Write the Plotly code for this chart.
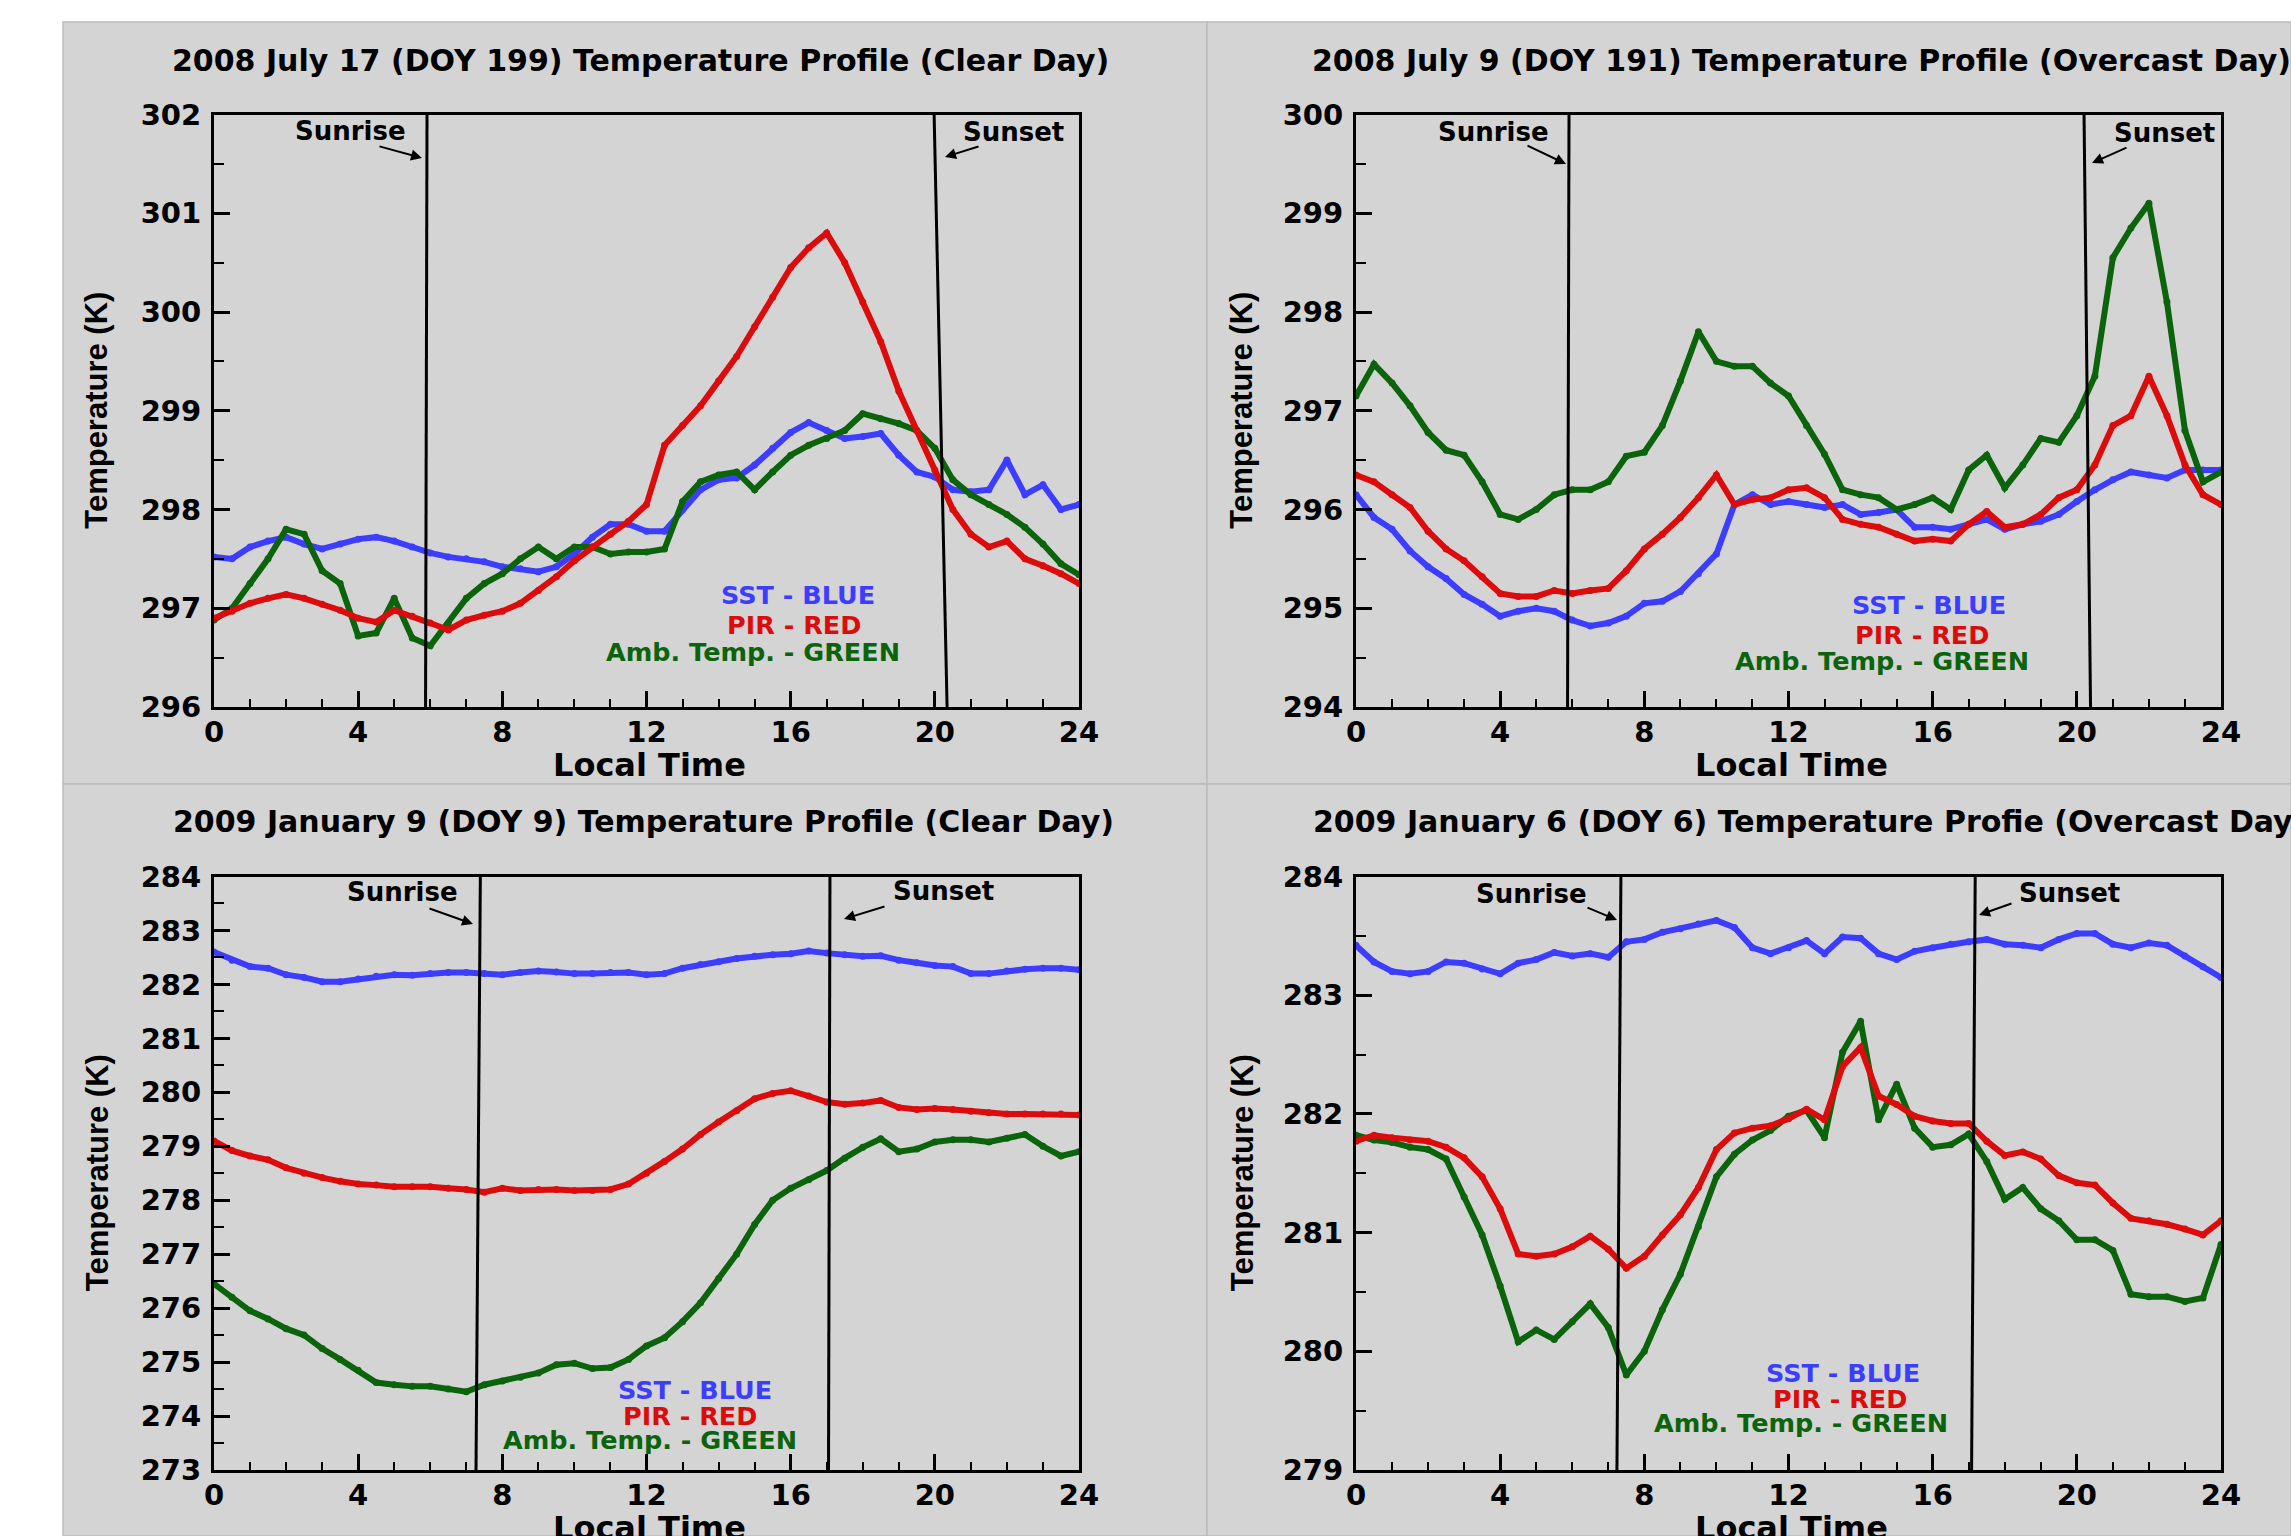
import plotly.graph_objects as go

# ---------------------------------------------------------------- data
HOURS = [0.0, 0.5, 1.0, 1.5, 2.0, 2.5, 3.0, 3.5, 4.0, 4.5,
         5.0, 5.5, 6.0, 6.5, 7.0, 7.5, 8.0, 8.5, 9.0, 9.5,
         10.0, 10.5, 11.0, 11.5, 12.0, 12.5, 13.0, 13.5, 14.0, 14.5,
         15.0, 15.5, 16.0, 16.5, 17.0, 17.5, 18.0, 18.5, 19.0, 19.5,
         20.0, 20.5, 21.0, 21.5, 22.0, 22.5, 23.0, 23.5, 24.0]

X_TICKS = [0, 4, 8, 12, 16, 20, 24]

# 2008 July 17 (DOY 199), clear day
sst_jul17 = [297.52, 297.50, 297.62, 297.68, 297.72, 297.65, 297.60, 297.65, 297.70, 297.72,
             297.68, 297.62, 297.56, 297.52, 297.50, 297.47, 297.42, 297.40, 297.37, 297.42,
             297.55, 297.72, 297.85, 297.85, 297.78, 297.78, 298.00, 298.20, 298.30, 298.32,
             298.45, 298.62, 298.78, 298.88, 298.80, 298.72, 298.74, 298.77, 298.55, 298.38,
             298.33, 298.20, 298.18, 298.20, 298.50, 298.15, 298.25, 298.00, 298.05]
pir_jul17 = [296.90, 296.97, 297.05, 297.10, 297.14, 297.10, 297.04, 296.98, 296.90, 296.86,
             296.98, 296.92, 296.85, 296.78, 296.88, 296.93, 296.97, 297.05, 297.18, 297.32,
             297.48, 297.62, 297.75, 297.88, 298.05, 298.65, 298.85, 299.05, 299.30, 299.55,
             299.85, 300.15, 300.45, 300.65, 300.80, 300.50, 300.10, 299.70, 299.20, 298.80,
             298.40, 298.00, 297.75, 297.62, 297.68, 297.50, 297.43, 297.35, 297.25]
amb_jul17 = [296.88, 297.00, 297.25, 297.50, 297.80, 297.75, 297.38, 297.25, 296.72, 296.75,
             297.10, 296.70, 296.62, 296.85, 297.10, 297.25, 297.35, 297.50, 297.62, 297.50,
             297.62, 297.62, 297.55, 297.57, 297.57, 297.60, 298.08, 298.28, 298.35, 298.38,
             298.20, 298.38, 298.55, 298.65, 298.72, 298.80, 298.97, 298.92, 298.87, 298.80,
             298.62, 298.30, 298.15, 298.05, 297.95, 297.82, 297.65, 297.45, 297.34]

# 2008 July 9 (DOY 191), overcast day
sst_jul9 = [296.15, 295.92, 295.80, 295.58, 295.42, 295.30, 295.14, 295.04, 294.92, 294.97,
            295.00, 294.97, 294.88, 294.82, 294.85, 294.92, 295.05, 295.07, 295.17, 295.35,
            295.55, 296.05, 296.15, 296.05, 296.08, 296.05, 296.02, 296.05, 295.95, 295.97,
            296.00, 295.82, 295.82, 295.80, 295.85, 295.90, 295.80, 295.85, 295.88, 295.95,
            296.08, 296.20, 296.30, 296.38, 296.35, 296.32, 296.40, 296.40, 296.40]
pir_jul9 = [296.35, 296.28, 296.15, 296.02, 295.78, 295.60, 295.48, 295.32, 295.15, 295.12,
            295.12, 295.18, 295.15, 295.18, 295.20, 295.38, 295.60, 295.75, 295.92, 296.12,
            296.35, 296.05, 296.10, 296.12, 296.20, 296.22, 296.12, 295.90, 295.85, 295.82,
            295.75, 295.68, 295.70, 295.68, 295.85, 295.98, 295.82, 295.85, 295.95, 296.12,
            296.20, 296.45, 296.85, 296.95, 297.35, 296.95, 296.45, 296.15, 296.05]
amb_jul9 = [297.15, 297.47, 297.28, 297.05, 296.78, 296.60, 296.55, 296.28, 295.95, 295.90,
            296.00, 296.15, 296.20, 296.20, 296.28, 296.54, 296.58, 296.85, 297.30, 297.80,
            297.50, 297.45, 297.45, 297.28, 297.15, 296.85, 296.56, 296.20, 296.15, 296.12,
            296.00, 296.05, 296.12, 296.00, 296.40, 296.55, 296.22, 296.45, 296.72, 296.68,
            296.95, 297.35, 298.55, 298.85, 299.10, 298.10, 296.80, 296.28, 296.38]

# 2009 January 9 (DOY 9), clear day
sst_jan9 = [282.60, 282.45, 282.33, 282.30, 282.18, 282.13, 282.05, 282.05, 282.10, 282.15,
            282.18, 282.17, 282.20, 282.22, 282.22, 282.20, 282.18, 282.22, 282.25, 282.23,
            282.20, 282.20, 282.22, 282.22, 282.18, 282.20, 282.30, 282.37, 282.42, 282.48,
            282.52, 282.55, 282.57, 282.62, 282.58, 282.55, 282.52, 282.53, 282.45, 282.40,
            282.35, 282.33, 282.20, 282.20, 282.25, 282.28, 282.30, 282.30, 282.27]
pir_jan9 = [279.10, 278.92, 278.82, 278.75, 278.60, 278.50, 278.42, 278.35, 278.30, 278.28,
            278.25, 278.25, 278.25, 278.22, 278.20, 278.15, 278.22, 278.18, 278.20, 278.20,
            278.18, 278.18, 278.20, 278.30, 278.50, 278.72, 278.95, 279.22, 279.45, 279.66,
            279.88, 279.98, 280.03, 279.93, 279.82, 279.78, 279.80, 279.85, 279.72, 279.68,
            279.70, 279.68, 279.65, 279.62, 279.60, 279.60, 279.60, 279.60, 279.58]
amb_jan9 = [276.45, 276.20, 275.95, 275.80, 275.62, 275.50, 275.25, 275.05, 274.85, 274.62,
            274.58, 274.55, 274.55, 274.50, 274.45, 274.58, 274.65, 274.72, 274.80, 274.95,
            274.98, 274.88, 274.90, 275.05, 275.30, 275.45, 275.75, 276.10, 276.55, 277.00,
            277.55, 278.00, 278.22, 278.38, 278.55, 278.78, 278.98, 279.14, 278.90, 278.95,
            279.08, 279.12, 279.12, 279.08, 279.15, 279.22, 279.00, 278.82, 278.90]

# 2009 January 6 (DOY 6), overcast day
sst_jan6 = [283.42, 283.28, 283.20, 283.18, 283.20, 283.28, 283.27, 283.22, 283.18, 283.27,
            283.30, 283.36, 283.33, 283.35, 283.32, 283.45, 283.47, 283.53, 283.56, 283.60,
            283.63, 283.57, 283.40, 283.35, 283.40, 283.46, 283.35, 283.49, 283.48, 283.35,
            283.30, 283.37, 283.40, 283.43, 283.45, 283.47, 283.43, 283.42, 283.40, 283.47,
            283.52, 283.52, 283.43, 283.40, 283.44, 283.42, 283.33, 283.24, 283.15]
pir_jan6 = [281.77, 281.82, 281.80, 281.78, 281.77, 281.72, 281.63, 281.47, 281.20, 280.82,
            280.80, 280.82, 280.88, 280.97, 280.86, 280.70, 280.80, 280.98, 281.15, 281.38,
            281.70, 281.84, 281.88, 281.90, 281.96, 282.04, 281.95, 282.40, 282.56, 282.15,
            282.08, 281.98, 281.94, 281.92, 281.92, 281.77, 281.65, 281.68, 281.62, 281.48,
            281.42, 281.40, 281.25, 281.12, 281.10, 281.07, 281.03, 280.98, 281.10]
amb_jan6 = [281.82, 281.78, 281.76, 281.72, 281.70, 281.62, 281.30, 280.98, 280.55, 280.08,
            280.18, 280.10, 280.25, 280.40, 280.20, 279.80, 280.00, 280.35, 280.65, 281.05,
            281.47, 281.66, 281.78, 281.86, 281.98, 282.03, 281.80, 282.52, 282.78, 281.95,
            282.25, 281.88, 281.72, 281.74, 281.83, 281.60, 281.28, 281.38, 281.20, 281.10,
            280.94, 280.94, 280.85, 280.48, 280.46, 280.46, 280.42, 280.45, 280.90]

# sunrise / sunset lines: (hour at bottom of frame, hour at top of frame)
sun_jul17 = [(5.87, 5.91), (20.34, 19.98)]
sun_jul9 = [(5.87, 5.91), (20.38, 20.20)]
sun_jan9 = [(7.27, 7.39), (17.05, 17.09)]
sun_jan6 = [(7.24, 7.35), (17.08, 17.18)]

titles = ["2008 July 17 (DOY 199) Temperature Profile (Clear Day)",
          "2008 July 9 (DOY 191) Temperature Profile (Overcast Day)",
          "2009 January 9 (DOY 9) Temperature Profile (Clear Day)",
          "2009 January 6 (DOY 6) Temperature Profie (Overcast Day)"]

# ---------------------------------------------------------------- style
W, H = 2291, 1536
GRAY = "#d4d4d4"
BLUE, RED, GREEN = "#3d3dff", "#dc0c0c", "#0b640b"
BOLD = "DejaVu Sans"
NARROW = "Liberation Sans, Arial"


def px(x):
    return x / W


def py(y):
    return 1 - y / H


# pixel geometry of each panel: plot frame left/top/right/bottom, offsets
panels = [
    dict(box=(214, 114.5, 1079, 707), yr=(296, 302), sun=sun_jul17,
         data=(sst_jul17, pir_jul17, amb_jul17), title=titles[0], tx=("c", 640, 60),
         rise=((350, 131), (378, 146), (422, 158)), set=((1013, 132), (980, 146), (945, 157)),
         leg=((798, 595), (794, 625), (753, 652)), ytx=97),
    dict(box=(1356, 114.5, 2221, 707), yr=(294, 300), sun=sun_jul9,
         data=(sst_jul9, pir_jul9, amb_jul9), title=titles[1], tx=("l", 1310, 60),
         rise=((1493, 132), (1526, 145), (1566, 164)), set=((2164, 133), (2128, 147), (2092, 163)),
         leg=((1929, 605), (1922, 635), (1882, 661)), ytx=1242),
    dict(box=(214, 876.5, 1079, 1470), yr=(273, 284), sun=sun_jan9,
         data=(sst_jan9, pir_jan9, amb_jan9), title=titles[2], tx=("c", 643, 821),
         rise=((402, 892), (428, 908), (473, 924)), set=((943, 891), (886, 906), (844, 919)),
         leg=((695, 1390), (690, 1416), (650, 1440)), ytx=97),
    dict(box=(1356, 876.5, 2221, 1470), yr=(279, 284), sun=sun_jan6,
         data=(sst_jan6, pir_jan6, amb_jan6), title=titles[3], tx=("l", 1311, 821),
         rise=((1531, 894), (1586, 907), (1617, 920)), set=((2069, 893), (2013, 903), (1979, 915)),
         leg=((1843, 1373), (1840, 1399), (1801, 1423)), ytx=1242),
]

fig = go.Figure()
layout = dict(width=W, height=H, template="none",
              margin=dict(l=0, r=0, t=0, b=0, pad=0, autoexpand=False),
              paper_bgcolor="white", plot_bgcolor=GRAY, showlegend=False)
shapes, annotations = [], []

# gray panel backgrounds
for x0, y0, x1, y1 in [(63, 22, 1207, 784), (1207, 22, 2291, 784),
                       (63, 784, 1207, 1536), (1207, 784, 2291, 1536)]:
    shapes.append(dict(type="rect", xref="paper", yref="paper", layer="below",
                       x0=px(x0), x1=px(x1), y0=py(y1), y1=py(y0),
                       fillcolor=GRAY, line=dict(color="#bcbcbc", width=1.5)))

tick_font = dict(family=BOLD, size=29, color="black", weight="bold")

for i, p in enumerate(panels, start=1):
    xa, ya = f"x{i}" if i > 1 else "x", f"y{i}" if i > 1 else "y"
    l, t, r, b = p["box"]
    sst, pir, amb = p["data"]
    for vals, col in ((sst, BLUE), (amb, GREEN), (pir, RED)):
        fig.add_trace(go.Scatter(x=HOURS, y=vals, mode="lines+markers", xaxis=xa, yaxis=ya,
                                 line=dict(color=col, width=6),
                                 marker=dict(color=col, size=7), hoverinfo="skip"))

    axis_common = dict(showline=True, mirror=True, linewidth=3, linecolor="black",
                       showgrid=False, zeroline=False, ticks="inside", tickwidth=2.5,
                       tickcolor="black", ticklen=16, tickfont=tick_font, automargin=False)
    layout["xaxis" + (str(i) if i > 1 else "")] = dict(
        axis_common, domain=[px(l), px(r)], range=[0, 24], tickvals=X_TICKS,
        anchor=ya, ticklabelstandoff=-3,
        minor=dict(ticks="inside", ticklen=8, tickwidth=2, dtick=1, tick0=0,
                   tickcolor="black"))
    layout["yaxis" + (str(i) if i > 1 else "")] = dict(
        axis_common, domain=[py(b), py(t)], range=list(p["yr"]), dtick=1, tick0=0,
        anchor=xa, ticklabelstandoff=4,
        minor=dict(ticks="inside", ticklen=10, tickwidth=2, dtick=0.5, tick0=0,
                   tickcolor="black"))

    # sunrise and sunset lines
    for hb, ht in p["sun"]:
        shapes.append(dict(type="line", xref=xa, yref=ya + " domain", x0=hb, y0=0,
                           x1=ht, y1=1, line=dict(color="black", width=3)))

    # sunrise / sunset labels with their arrows
    for key, word in (("rise", "Sunrise"), ("set", "Sunset")):
        (tx, ty), (ax0, ay0), (hx, hy) = p[key]
        annotations.append(dict(xref="paper", yref="paper", x=px(tx), y=py(ty),
                                text=word, showarrow=False, xanchor="center",
                                yanchor="middle",
                                font=dict(family=BOLD, size=26, color="black",
                                          weight="bold")))
        annotations.append(dict(xref="paper", yref="paper", x=px(hx), y=py(hy),
                                axref="pixel", ayref="pixel", ax=ax0 - hx, ay=ay0 - hy,
                                text="", showarrow=True, arrowhead=2, arrowsize=1.1,
                                arrowwidth=2, arrowcolor="black"))

    # colour key
    for (lx, ly), txt, col in zip(p["leg"], ("SST - BLUE", "PIR - RED",
                                             "Amb. Temp. - GREEN"), (BLUE, RED, GREEN)):
        annotations.append(dict(xref="paper", yref="paper", x=px(lx), y=py(ly), text=txt,
                                showarrow=False, xanchor="center", yanchor="middle",
                                font=dict(family=BOLD, size=25.5, color=col,
                                          weight="bold")))

    # panel title
    anc, tx, ty = p["tx"]
    annotations.append(dict(xref="paper", yref="paper", x=px(tx), y=py(ty),
                            text=p["title"], showarrow=False,
                            xanchor="center" if anc == "c" else "left", yanchor="middle",
                            font=dict(family=BOLD, size=30, color="black", weight="bold")))

    # axis titles
    annotations.append(dict(xref="paper", yref="paper", x=px((l + r) / 2 + 3),
                            y=py(b + 58), text="Local Time", showarrow=False,
                            xanchor="center", yanchor="middle",
                            font=dict(family=BOLD, size=32, color="black", weight="bold")))
    annotations.append(dict(xref="paper", yref="paper", x=px(p["ytx"]),
                            y=py((t + b) / 2), text="Temperature (K)", showarrow=False,
                            textangle=-90, xanchor="center", yanchor="middle",
                            font=dict(family=NARROW, size=31, color="black",
                                      weight="bold")))

layout["shapes"] = shapes
layout["annotations"] = annotations
fig.update_layout(**layout)

# the page itself should add no margin or scrollbars around the figure
fig.write_html("out.html", post_script=(
    "document.body.style.margin='0';"
    "document.body.style.overflow='hidden';"
    "document.documentElement.style.overflow='hidden';"))
